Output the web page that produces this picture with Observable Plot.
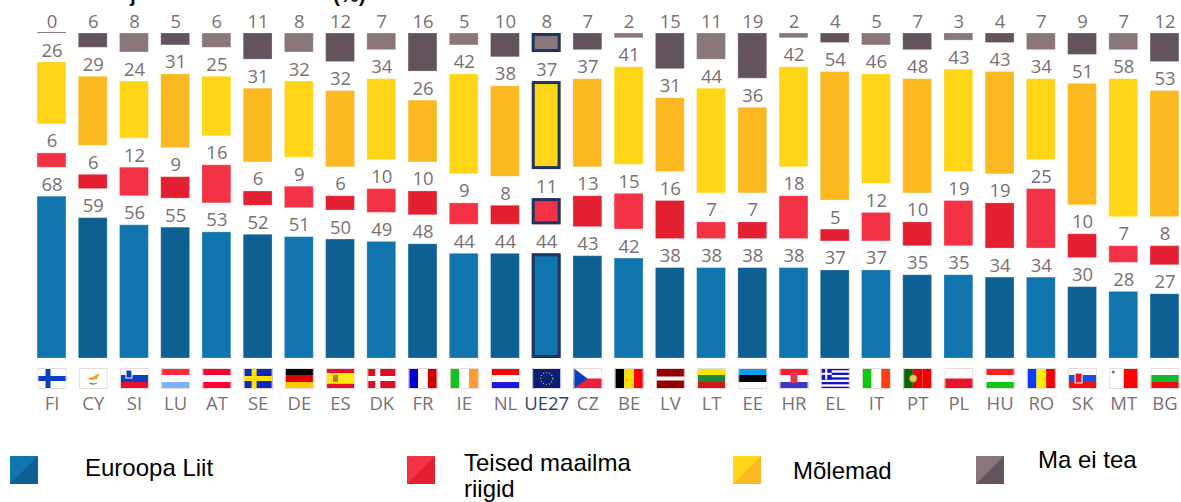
<!DOCTYPE html>
<html><head><meta charset="utf-8">
<script src="https://cdn.jsdelivr.net/npm/d3@7"></script>
<script src="https://cdn.jsdelivr.net/npm/@observablehq/plot@0.6"></script>
<style>
html,body{margin:0;padding:0;background:#fff;width:1181px;height:502px;overflow:hidden}
#wrap{position:relative;width:1181px;height:502px}
#wrap svg{position:absolute;left:0;top:0}
.title{position:absolute;top:-17px;font:bold 21px "Liberation Sans",sans-serif;color:#111;white-space:pre}
.sw{position:absolute;top:456px;width:28px;height:28px}
.lg{position:absolute;font:24px/26px "Liberation Sans",sans-serif;color:#000}
</style></head><body><div id="wrap"></div>
<script>
const codes=["FI","CY","SI","LU","AT","SE","DE","ES","DK","FR","IE","NL","UE27","CZ","BE","LV","LT","EE","HR","EL","IT","PT","PL","HU","RO","SK","MT","BG"];
const euValues=[68,59,56,55,53,52,51,50,49,48,44,44,44,43,42,38,38,38,38,37,37,35,35,34,34,30,28,27];
const otherValues=[6,6,12,9,16,6,9,6,10,10,9,8,11,13,15,16,7,7,18,5,12,10,19,19,25,10,7,8];
const bothValues=[26,29,24,31,25,31,32,32,34,26,42,38,37,37,41,31,44,36,42,54,46,48,43,43,34,51,58,53];
const dkValues=[0,6,8,5,6,11,8,12,7,16,5,10,8,7,2,15,11,19,2,4,5,7,3,4,7,9,7,12];
const seriesNames=["Euroopa Liit","Teised maailma riigid","Mõlemad","Ma ei tea"];

const palette={ "Euroopa Liit":["#1075ae","#0f6092"], "Teised maailma riigid":["#f43246","#e32032"], "Mõlemad":["#ffd617","#fbb820"], "Ma ei tea":["#8a777a","#63535c"] };
const GAP=12.2, TOP=100+3*GAP;
const rows=[];
codes.forEach((code,i)=>{
  let base=0;
  [euValues,otherValues,bothValues].forEach((vals,s)=>{
    rows.push({code,i,series:seriesNames[s],value:vals[i],y1:base,y2:base+vals[i]});
    base+=vals[i]+GAP;
  });
  rows.push({code,i,series:seriesNames[3],value:dkValues[i],y1:TOP-dkValues[i],y2:TOP});
});
const fillOf=d=>palette[d.series][d.i%2];

// small flag drawings, viewBox 29x21
const st=(dir,cols)=>{const n=cols.length;return cols.map((c,k)=>dir==="h"?`<rect y="${k*21/n}" width="29" height="${21/n}" fill="${c}"/>`:`<rect x="${k*29/n}" width="${29/n}" height="21" fill="${c}"/>`).join("")};
const cross=(bg,c)=>`<rect width="29" height="21" fill="${bg}"/><rect x="8" width="5" height="21" fill="${c}"/><rect y="8" width="29" height="5" fill="${c}"/>`;
const flags={
 FI:cross("#fff","#0a3fc4"),
 CY:`<rect width="29" height="21" fill="#fff"/><path d="M9 10l5-1 5-3 2 0-3 5-4 1-3 0z" fill="#f0a823"/><path d="M11 15q4 2 7 0" stroke="#5fa845" stroke-width="1.5" fill="none"/>`,
 SI:st("h",["#fff","#0a3fc4","#e8112d"])+`<rect x="6" y="2" width="6" height="8" fill="#0a3fc4" stroke="#fff"/>`,
 LU:st("h",["#ff2a3a","#fff","#7fb2f8"]),
 AT:st("h",["#ff0033","#fff","#ff0033"]),
 SE:`<rect width="29" height="21" fill="#0a2bb8"/><rect x="8" width="5" height="21" fill="#ffe000"/><rect y="8" width="29" height="5" fill="#ffe000"/>`,
 DE:st("h",["#000","#e00000","#ffcc00"]),
 ES:st("h",["#e8112d","#ffee00","#ffee00","#e8112d"])+`<rect x="7" y="7" width="5" height="7" fill="#c8722a"/>`,
 DK:cross("#d81222","#fff"),
 FR:st("v",["#0000c8","#fff","#d00000"]),
 IE:st("v",["#16c11f","#fff","#ff9a33"]),
 NL:st("h",["#ff0000","#fff","#1a1ae0"]),
 UE27:`<rect width="29" height="21" fill="#0a1e78"/><circle cx="14.5" cy="10.5" r="6" fill="none" stroke="#d8c23a" stroke-width="1.2" stroke-dasharray="1 2"/>`,
 CZ:st("h",["#fff","#e8203a"])+`<path d="M0 0L14 10.5L0 21z" fill="#0a3fc4"/>`,
 BE:st("v",["#000","#ffe000","#ff0000"]),
 LV:`<rect width="29" height="21" fill="#960000"/><rect y="8.5" width="29" height="4" fill="#fff"/>`,
 LT:st("h",["#ffe600","#1a8a3c","#d01818"]),
 EE:st("h",["#0a9cf0","#000","#fff"]),
 HR:st("h",["#ff1a2e","#fff","#3a38c8"])+`<rect x="11" y="4" width="7" height="11" fill="#e03a55"/>`,
 EL:`<rect width="29" height="21" fill="#fff"/>`+[0,2,4,6,8].map(k=>`<rect y="${k*21/9}" width="29" height="${21/9}" fill="#1212d0"/>`).join("")+`<rect width="11" height="11.7" fill="#1212d0"/><rect x="4.5" width="2" height="11.7" fill="#fff"/><rect y="4.8" width="11" height="2" fill="#fff"/>`,
 IT:st("v",["#0dc80d","#fff","#ff3c10"]),
 PT:st("v",["#056a05","#f20000","#f20000"])+`<circle cx="10" cy="10.5" r="4" fill="#e8c84a" stroke="#444" stroke-width=".6"/>`,
 PL:st("h",["#fff","#e8142e"]),
 HU:st("h",["#ff2020","#fff","#10c810"]),
 RO:st("v",["#0a3cff","#ffee00","#f00000"]),
 SK:st("h",["#fff","#1a4fe0","#f01010"])+`<rect x="7" y="5" width="7" height="10" fill="#e8112d" stroke="#fff"/>`,
 MT:st("v",["#fff","#ff0000"])+`<circle cx="4" cy="4" r="1.6" fill="#777"/>`,
 BG:st("h",["#fff","#10b82a","#e81010"])
};
const flagSrc=c=>"data:image/svg+xml;utf8,"+encodeURIComponent(`<svg xmlns="http://www.w3.org/2000/svg" viewBox="0 0 29 21" width="29" height="21" preserveAspectRatio="none">${flags[c]}<rect x=".5" y=".5" width="28" height="20" fill="none" stroke="#e4dcdc"/></svg>`);

const highlight=rows.filter(d=>d.code==="UE27");
const chart=Plot.plot({
  width:1181,height:430,marginLeft:31,marginRight:0,marginTop:0,marginBottom:72,
  style:{background:"transparent"},
  x:{domain:codes,range:[30.9,1185.1],paddingInner:0.3,paddingOuter:0.15,round:false,label:null},
  y:{domain:[0,TOP],range:[358,33],axis:null},
  marks:[
    Plot.barY(rows,{x:"code",y1:"y1",y2:"y2",fill:fillOf,stroke:"#fff",strokeOpacity:0.25,strokeWidth:1}),
    Plot.barY(rows.filter(d=>d.value===0),{x:"code",y1:"y1",y2:d=>d.y2+0.4,fill:"#8a777a"}),
    Plot.barY(highlight,{x:"code",y1:"y1",y2:"y2",fill:"none",stroke:"#1f3560",strokeWidth:3,inset:1.5}),
    Plot.text(rows,{x:"code",y:"y2",text:d=>String(d.value),dy:-6,lineAnchor:"bottom",fontSize:18.5,fill:"#7c7073",fontFamily:"Open Sans"}),
    Plot.image(codes,{x:d=>d,frameAnchor:"bottom",dy:20,width:29,height:21,preserveAspectRatio:"none",src:flagSrc}),
    Plot.axisX({anchor:"bottom",tickSize:0,tickPadding:38,fontSize:18.5,label:null,fontFamily:"Open Sans",fill:"#7c7073",tickFormat:d=>d}),
  ]
});
const wrap=document.getElementById("wrap");
wrap.appendChild(chart);
// UE27 tick in navy
d3.select(chart).selectAll("g[aria-label='x-axis tick label'] text").filter(function(){return this.textContent==="UE27"}).attr("fill","#2f4472");
const legend=[
 {name:seriesNames[0],sx:10,tx:85,ty:455,w:300},
 {name:seriesNames[1],sx:407,tx:464,ty:450,w:190},
 {name:seriesNames[2],sx:733,tx:793,ty:458,w:200},
 {name:seriesNames[3],sx:976,tx:1038,ty:447,w:140},
];
legend.forEach(l=>{
  const s=document.createElement("div");s.className="sw";s.style.left=l.sx+"px";
  const [a,b]=palette[l.name];s.style.background=`linear-gradient(to bottom right,${a} 49.5%,${b} 50.5%)`;
  wrap.appendChild(s);
  const t=document.createElement("div");t.className="lg";t.textContent=l.name;
  t.style.left=l.tx+"px";t.style.top=l.ty+"px";t.style.width=l.w+"px";
  wrap.appendChild(t);
});
[["j",130],["(%)",333]].forEach(([txt,x])=>{
  const t=document.createElement("div");t.className="title";t.textContent=txt;t.style.left=x+"px";wrap.appendChild(t);
});
</script></body></html>
